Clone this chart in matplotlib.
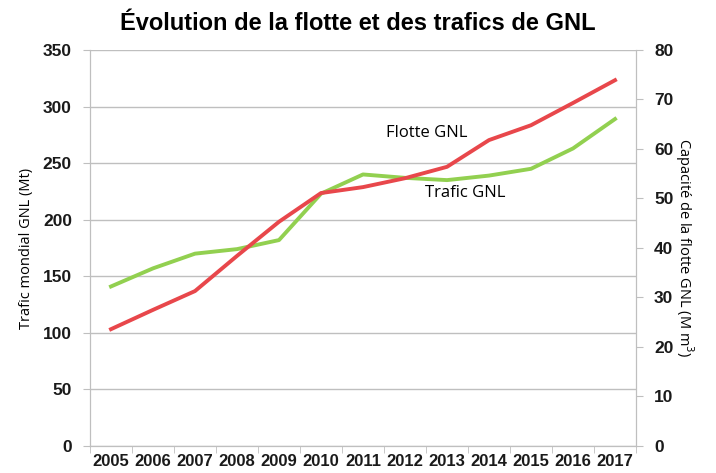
import matplotlib.pyplot as plt
import numpy as np

# Data
years = ['2005', '2006', '2007', '2008', '2009', '2010', '2011',
         '2012', '2013', '2014', '2015', '2016', '2017']
trafic_mt = [141, 157, 170, 174, 182, 223, 240, 237, 235, 239, 245, 263, 289]
flotte_mm3 = [23.6, 27.5, 31.3, 38.4, 45.3, 51.1, 52.3, 54.1, 56.4, 61.8, 64.8, 69.3, 73.9]

plt.rcParams['font.family'] = ['Liberation Sans', 'DejaVu Sans']

fig = plt.figure(figsize=(7.16, 4.73), dpi=100)
ax = fig.add_axes([0.1257, 0.0571, 0.7626, 0.8372])
ax2 = ax.twinx()

x = np.arange(len(years))
grid_col = '#bfbfbf'

# Left axis: traffic
ax.set_xlim(-0.5, len(years) - 0.5)
ax.set_ylim(0, 350)
ax.set_yticks(range(0, 351, 50))
ax.yaxis.grid(True, color=grid_col, linewidth=1)
ax.set_axisbelow(True)
ax.plot(x, trafic_mt, color='#92d050', linewidth=2.8, zorder=3)

# Right axis: fleet capacity
ax2.set_ylim(0, 80)
ax2.set_yticks(range(0, 81, 10))
ax2.plot(x, flotte_mm3, color='#e8474b', linewidth=2.8, zorder=4)

# Category labels between tick marks
ax.set_xticks(x)
ax.set_xticklabels(years)
ax.set_xticks(np.arange(-0.5, len(years)), minor=True)
ax.tick_params(axis='x', which='major', length=0, pad=6)
ax.tick_params(axis='x', which='minor', length=5, color=grid_col)

for a in (ax, ax2):
    a.spines['top'].set_visible(False)
    for s in ('left', 'right', 'bottom'):
        a.spines[s].set_color(grid_col)
    a.tick_params(axis='y', length=5, color=grid_col, labelsize=12.5, pad=8)
    for lbl in a.get_yticklabels():
        lbl.set_fontweight('bold')
        lbl.set_color('#1a1a1a')
for lbl in ax.get_xticklabels():
    lbl.set_fontweight('bold')
    lbl.set_fontsize(12)
    lbl.set_color('#1a1a1a')

ax.set_ylabel('Trafic mondial GNL (Mt)', fontsize=10.5, family=['Open Sans', 'DejaVu Sans'], labelpad=6)
ax2.set_ylabel('Capacité de la flotte GNL (M m$^3$)', fontsize=10.5,
               family=['Open Sans', 'DejaVu Sans'], rotation=270, labelpad=16)

ax2.text(7.52, 63.2, 'Flotte GNL', fontsize=12, family=['Open Sans', 'DejaVu Sans'],
         ha='center', va='center')
ax.text(8.43, 223.6, 'Trafic GNL', fontsize=12, family=['Open Sans', 'DejaVu Sans'],
        ha='center', va='center')

fig.suptitle('Évolution de la flotte et des trafics de GNL', fontsize=17,
             fontweight='bold', y=0.975)

fig.savefig('out.png', dpi=100)
